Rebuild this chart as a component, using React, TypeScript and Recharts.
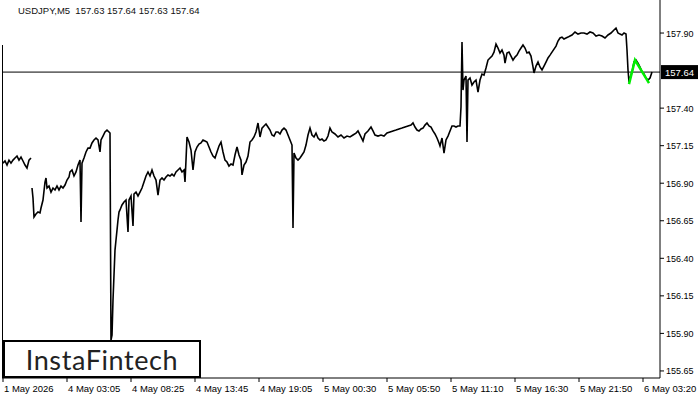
import { LineChart, Line, XAxis, YAxis, ReferenceLine } from 'recharts'

// bar numbers count M5 bars from the left edge of the window
const fridayBars = [1, 3, 5, 7, 9, 11, 13, 15, 17, 19, 21, 23, 25, 27, 29]
const fridayCloses = [
  157.034, 157.048, 157.021, 157.054, 157.034, 157.054, 157.068, 157.081, 157.054, 157.074, 157.048, 157.021,
  157.001, 157.054, 157.068,
]

const weekBars = [
  30, 31, 32, 34, 36, 38, 39, 41, 43, 44, 45, 47, 49, 51, 53, 55, 57, 59, 61, 63, 65, 67, 68, 70, 72, 74, 76, 78,
  79, 80, 82, 84, 86, 88, 90, 92, 94, 96, 98, 99, 101, 103, 105, 107, 108, 109, 110, 111, 112, 113, 114, 115, 116,
  117, 118, 120, 122, 124, 126, 127, 129, 131, 132, 134, 136, 138, 140, 142, 144, 146, 148, 150, 152, 154, 156,
  158, 160, 162, 164, 166, 168, 170, 172, 174, 176, 178, 180, 182, 183, 184, 185, 187, 189, 191, 193, 195, 197,
  199, 201, 203, 205, 207, 209, 211, 213, 215, 217, 219, 221, 223, 225, 227, 229, 231, 233, 235, 237, 239, 240,
  242, 244, 246, 248, 250, 252, 254, 256, 258, 260, 262, 264, 266, 268, 270, 272, 274, 276, 278, 280, 282, 284,
  286, 288, 290, 291, 292, 294, 296, 298, 300, 302, 304, 306, 308, 310, 312, 314, 316, 318, 320, 322, 324, 326,
  328, 330, 333, 336, 339, 342, 345, 348, 351, 354, 356, 359, 361, 363, 366, 369, 371, 373, 376, 379, 382, 385,
  388, 391, 394, 397, 400, 403, 406, 409, 411, 413, 415, 417, 419, 421, 423, 425, 427, 429, 431, 433, 435, 437,
  438, 440, 442, 444, 446, 448, 450, 452, 454, 456, 458, 459, 460, 461, 462, 464, 465, 466, 468, 470, 472, 474,
  476, 478, 480, 482, 484, 486, 488, 490, 492, 494, 496, 498, 500, 502, 503, 505, 507, 509, 511, 513, 515, 517,
  519, 521, 523, 525, 527, 529, 531, 532, 534, 536, 538, 540, 542, 544, 546, 548, 550, 552, 554, 556, 558, 560,
  562, 564, 566, 568, 570, 573, 576, 579, 582, 585, 588, 591, 594, 597, 600, 603, 606, 609, 612, 614, 616, 618,
  620, 622, 624, 625, 626, 627, 628, 630, 632, 634, 636, 638, 640, 642, 644, 646, 648, 650,
]
const weekCloses = [
  156.868, 156.801, 156.675, 156.695, 156.708, 156.702, 156.735, 156.788, 156.908, 156.935, 156.868, 156.881,
  156.841, 156.868, 156.855, 156.881, 156.855, 156.881, 156.868, 156.888, 156.921, 156.941, 156.975, 156.988,
  156.948, 156.975, 157.021, 157.054, 156.642, 157.034, 157.068, 157.108, 157.134, 157.134, 157.168, 157.188,
  157.201, 157.188, 157.108, 157.188, 157.214, 157.241, 157.254, 157.241, 157.234, 155.856, 155.889, 156.122,
  156.289, 156.455, 156.522, 156.588, 156.655, 156.708, 156.722, 156.755, 156.775, 156.788, 156.575, 156.788,
  156.815, 156.615, 156.828, 156.841, 156.815, 156.841, 156.868, 156.908, 156.948, 156.975, 156.948, 156.988,
  156.948, 156.921, 156.821, 156.921, 156.935, 156.921, 156.941, 156.955, 156.948, 156.961, 156.948, 156.975,
  156.988, 157.001, 156.975, 156.988, 156.908, 157.054, 157.208, 157.174, 157.121, 156.988, 157.108, 157.141,
  157.161, 157.168, 157.188, 157.181, 157.174, 157.141, 157.108, 157.081, 157.068, 157.108, 157.148, 157.174,
  157.108, 157.054, 157.041, 157.014, 157.028, 157.021, 157.088, 157.141, 157.088, 157.054, 156.955, 157.021,
  157.041, 157.081, 157.174, 157.188, 157.208, 157.241, 157.301, 157.208, 157.267, 157.281, 157.294, 157.274,
  157.254, 157.221, 157.214, 157.241, 157.241, 157.228, 157.254, 157.267, 157.254, 157.221, 157.188, 157.154,
  156.602, 157.101, 157.068, 157.054, 157.068, 157.088, 157.108, 157.154, 157.221, 157.267, 157.221, 157.208,
  157.234, 157.201, 157.188, 157.194, 157.181, 157.188, 157.214, 157.267, 157.241, 157.228, 157.208, 157.221,
  157.201, 157.214, 157.208, 157.221, 157.234, 157.248, 157.208, 157.181, 157.228, 157.248, 157.274, 157.248,
  157.221, 157.214, 157.221, 157.214, 157.234, 157.241, 157.248, 157.254, 157.261, 157.267, 157.274, 157.281,
  157.287, 157.301, 157.274, 157.254, 157.248, 157.261, 157.267, 157.287, 157.301, 157.281, 157.274, 157.248,
  157.228, 157.201, 157.168, 157.148, 157.201, 157.101, 157.188, 157.214, 157.248, 157.281, 157.281, 157.274,
  157.281, 157.281, 157.407, 157.84, 157.52, 157.587, 157.614, 157.174, 157.587, 157.6, 157.554, 157.574,
  157.587, 157.507, 157.587, 157.627, 157.62, 157.667, 157.72, 157.734, 157.747, 157.773, 157.827, 157.8,
  157.767, 157.787, 157.753, 157.7, 157.767, 157.773, 157.747, 157.72, 157.74, 157.753, 157.78, 157.8, 157.82,
  157.8, 157.767, 157.773, 157.747, 157.674, 157.634, 157.68, 157.707, 157.674, 157.654, 157.68, 157.707,
  157.734, 157.753, 157.773, 157.793, 157.813, 157.847, 157.867, 157.873, 157.86, 157.867, 157.873, 157.88,
  157.887, 157.907, 157.893, 157.9, 157.9, 157.893, 157.907, 157.9, 157.88, 157.887, 157.88, 157.867, 157.887,
  157.9, 157.92, 157.933, 157.9, 157.893, 157.887, 157.9, 157.893, 157.787, 157.654, 157.574, 157.6, 157.64,
  157.707, 157.72, 157.7, 157.674, 157.64, 157.627, 157.6, 157.587, 157.6, 157.64,
]

const patternBars = [627, 633, 647]
const patternValues = [157.56, 157.72, 157.567]

const tickBars = [1, 65, 129, 193, 257, 321, 385, 449, 513, 577, 641]
const tickLabels = [
  '1 May 2026',
  '4 May 03:05',
  '4 May 08:25',
  '4 May 13:45',
  '4 May 19:05',
  '5 May 00:30',
  '5 May 05:50',
  '5 May 11:10',
  '5 May 16:30',
  '5 May 21:50',
  '6 May 03:20',
]
const priceTicks = [155.65, 155.9, 156.15, 156.4, 156.65, 156.9, 157.15, 157.4, 157.9]
const lastPrice = 157.64

const friday = fridayBars.map((bar, i) => ({ bar, close: fridayCloses[i] }))
const week = weekBars.map((bar, i) => ({ bar, close: weekCloses[i] }))
const pattern = patternBars.map((bar, i) => ({ bar, close: patternValues[i] }))

const font = '"Liberation Sans", Arial, sans-serif'

function TimeTick({ x, y, payload }: any) {
  const label = tickLabels[tickBars.indexOf(payload.value)]
  return (
    <text x={x + 1} y={y} dy={8} fontSize={9.5} fontFamily={font} fill="#000" textAnchor="start">
      {label}
    </text>
  )
}

function PriceTick({ x, y, payload }: any) {
  return (
    <text x={x} y={y} dy={3.5} fontSize={9} fontFamily={font} fill="#000" textAnchor="start">
      {payload.value.toFixed(2)}
    </text>
  )
}

function PriceTag({ viewBox }: any) {
  if (!viewBox) return null
  const x = viewBox.x + viewBox.width + 1
  return (
    <g>
      <rect x={x} y={viewBox.y - 7} width={37} height={14} fill="#000" />
      <text x={x + 4} y={viewBox.y + 3.5} fontSize={9.5} fontFamily={font} fill="#fff">
        {lastPrice.toFixed(2)}
      </text>
    </g>
  )
}

export default function App() {
  return (
    <div style={{ position: 'absolute', left: 0, top: 0, width: 700, height: 400, background: '#fff' }}>
      <LineChart width={700} height={400} margin={{ top: 0, right: 0, left: 2, bottom: 0 }}>
        <XAxis
          dataKey="bar"
          type="number"
          domain={[0, 658]}
          ticks={tickBars}
          tick={<TimeTick />}
          interval={0}
          tickSize={4}
          height={22}
          axisLine={{ stroke: '#000' }}
          tickLine={{ stroke: '#000' }}
          allowDataOverflow
        />
        <YAxis
          orientation="right"
          type="number"
          domain={[155.603, 158.12]}
          ticks={priceTicks}
          tick={<PriceTick />}
          interval={0}
          tickSize={4}
          width={40}
          axisLine={{ stroke: '#000' }}
          tickLine={{ stroke: '#000' }}
          allowDataOverflow
        />
        <ReferenceLine y={lastPrice} stroke="#000" strokeWidth={1} label={<PriceTag />} />
        <Line data={friday} dataKey="close" stroke="#000" strokeWidth={1.6} strokeLinejoin="miter" dot={false} isAnimationActive={false} />
        <Line data={week} dataKey="close" stroke="#000" strokeWidth={1.6} strokeLinejoin="miter" dot={false} isAnimationActive={false} />
        <Line data={pattern} dataKey="close" stroke="#00ee00" strokeWidth={2.5} dot={false} isAnimationActive={false} />
      </LineChart>
      <div style={{ position: 'absolute', left: 2, top: 45, width: 1, height: 333, background: '#000' }} />
      <div
        style={{
          position: 'absolute',
          left: 18,
          top: 5,
          fontSize: 9.5,
          fontFamily: font,
          color: '#111',
          whiteSpace: 'pre',
        }}
      >
        {'USDJPY,M5  157.63 157.64 157.63 157.64'}
      </div>
      <div
        style={{
          position: 'absolute',
          left: 3,
          top: 340,
          width: 194,
          height: 34,
          border: '2px solid #000',
          background: '#fff',
          display: 'flex',
          alignItems: 'center',
          justifyContent: 'center',
          fontFamily: 'Lato, "Open Sans", sans-serif',
          fontWeight: 400,
          fontSize: 27,
          letterSpacing: 0.6,
          color: '#222',
        }}
      >
        InstaFintech
      </div>
    </div>
  )
}
